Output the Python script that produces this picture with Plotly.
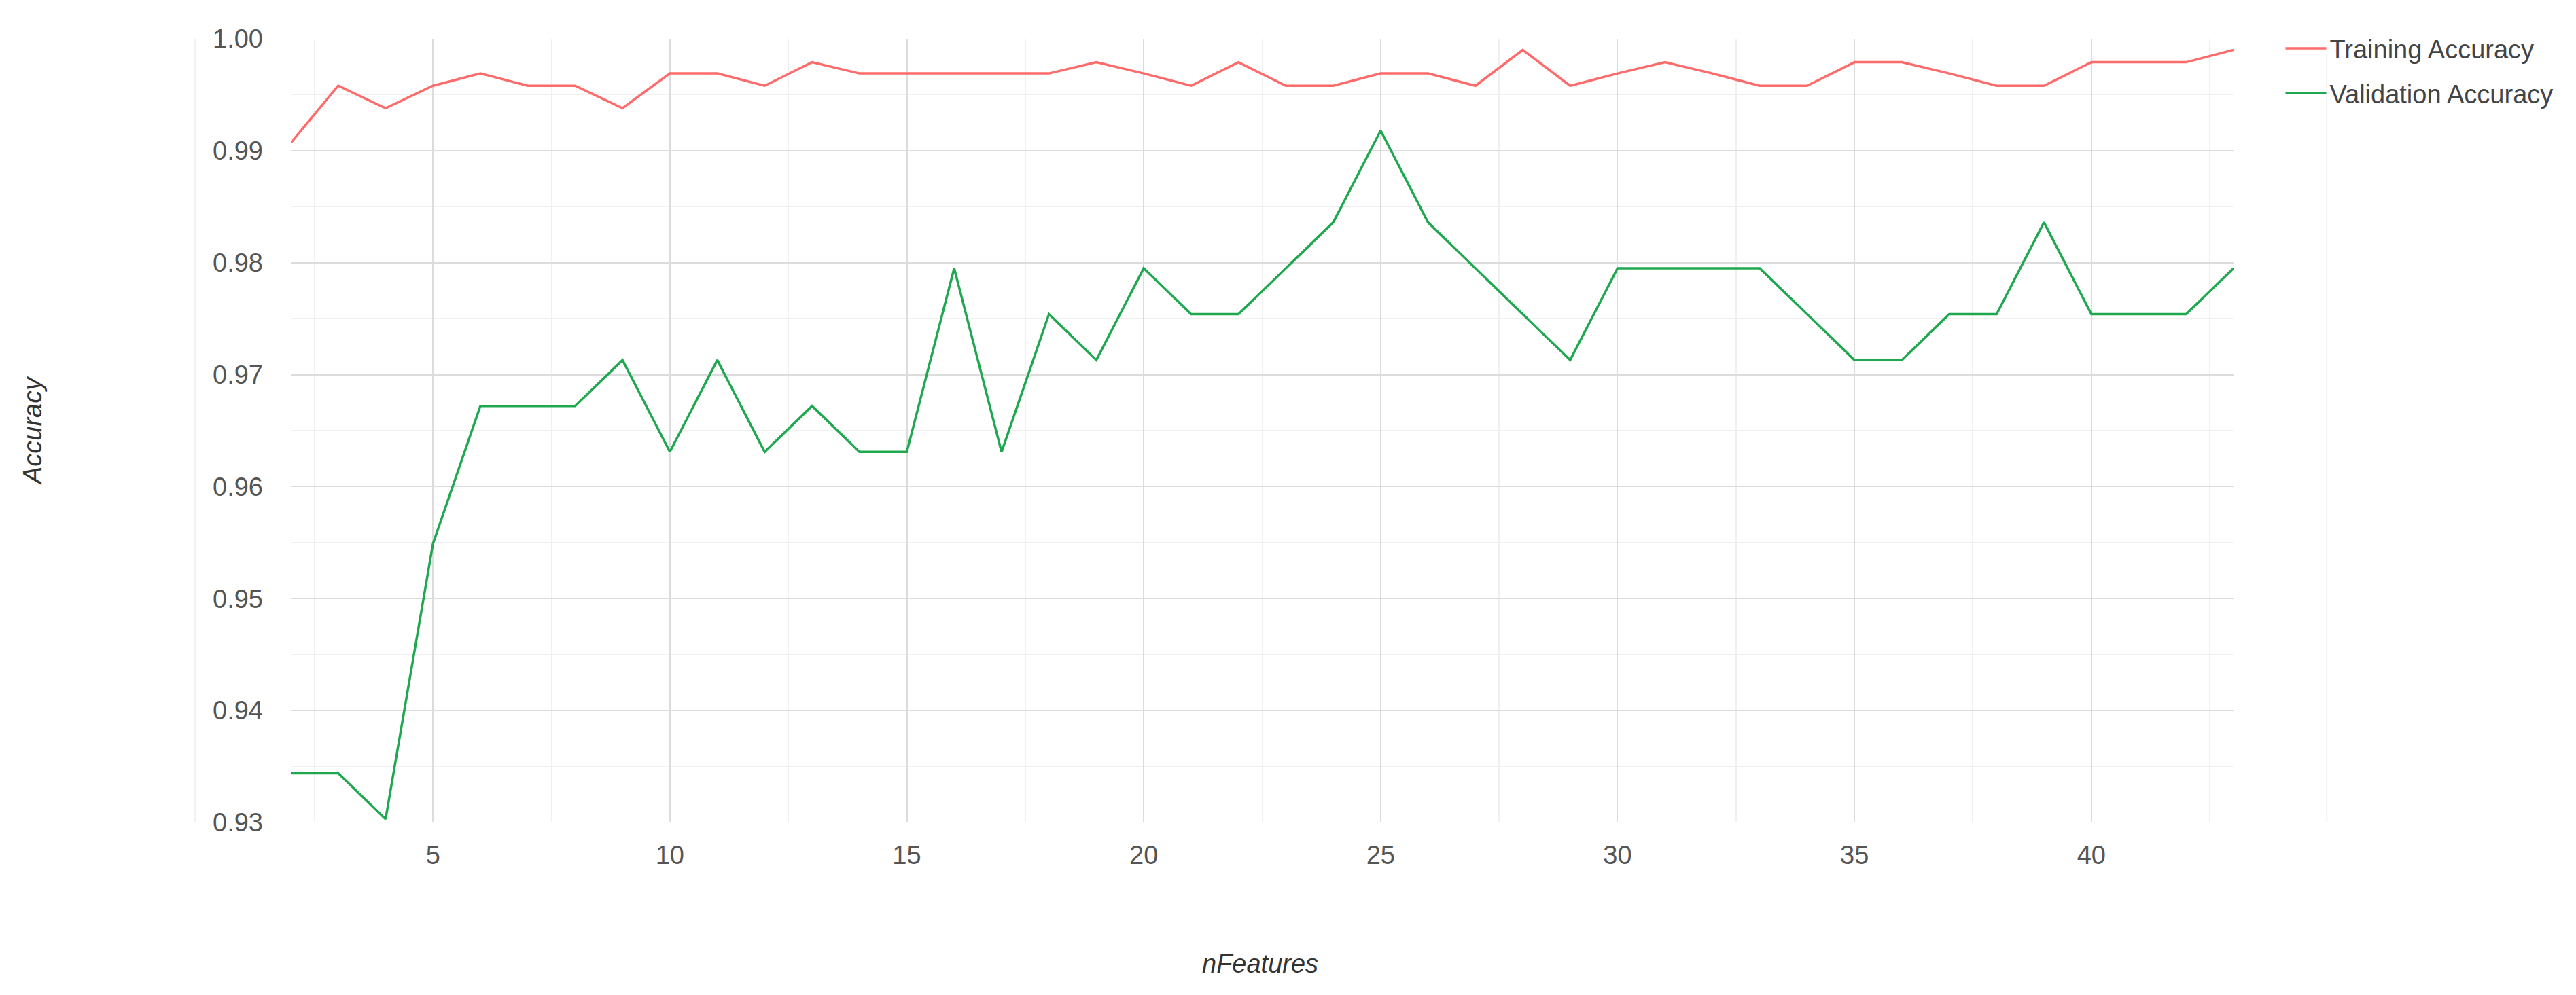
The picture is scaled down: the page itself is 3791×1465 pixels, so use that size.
"""Training vs validation accuracy by number of features."""

import plotly.graph_objects as go

n_features = list(range(2, 44))

training_acc = [
    0.9907, 0.9958, 0.9938, 0.9958, 0.9969, 0.9958, 0.9958, 0.9938, 0.9969, 0.9969,
    0.9958, 0.9979, 0.9969, 0.9969, 0.9969, 0.9969, 0.9969, 0.9979, 0.9969, 0.9958,
    0.9979, 0.9958, 0.9958, 0.9969, 0.9969, 0.9958, 0.9990, 0.9958, 0.9969, 0.9979,
    0.9969, 0.9958, 0.9958, 0.9979, 0.9979, 0.9969, 0.9958, 0.9958, 0.9979, 0.9979,
    0.9979, 0.9990,
]

validation_acc = [
    0.9344, 0.9344, 0.9303, 0.9549, 0.9672, 0.9672, 0.9672, 0.9713, 0.9631, 0.9713,
    0.9631, 0.9672, 0.9631, 0.9631, 0.9795, 0.9631, 0.9754, 0.9713, 0.9795, 0.9754,
    0.9754, 0.9795, 0.9836, 0.9918, 0.9836, 0.9795, 0.9754, 0.9713, 0.9795, 0.9795,
    0.9795, 0.9795, 0.9754, 0.9713, 0.9713, 0.9754, 0.9754, 0.9836, 0.9754, 0.9754,
    0.9754, 0.9795,
]

y_ticks = [0.93, 0.94, 0.95, 0.96, 0.97, 0.98, 0.99, 1.00]
x_ticks = [5, 10, 15, 20, 25, 30, 35, 40]

FONT = "Liberation Sans, Arial, sans-serif"

fig = go.Figure()
fig.add_trace(go.Scatter(x=n_features, y=training_acc, mode="lines",
                         name="Training Accuracy", legendgroup="train",
                         line=dict(color="#ff6b6b", width=3.5)))
fig.add_trace(go.Scatter(x=n_features, y=validation_acc, mode="lines",
                         name="Validation Accuracy", legendgroup="val",
                         line=dict(color="#1fa84f", width=3.5)))

# page body has an 8px margin, so the figure is a little smaller than the window
fig.update_layout(
    width=3775, height=1449,
    paper_bgcolor="white", plot_bgcolor="white",
    font=dict(family=FONT, size=38, color="#555"),
    margin=dict(l=420, r=496, t=49, b=246),
    showlegend=True,
    legend=dict(x=1.025, xanchor="left", y=1.015, yanchor="top",
                xref="paper", yref="paper",
                font=dict(size=38, color="#444"),
                tracegroupgap=14, itemwidth=60,
                bgcolor="rgba(0,0,0,0)"),
    xaxis=dict(range=[2, 43], tickvals=x_ticks, showgrid=True,
               gridcolor="#dcdcdc", gridwidth=2, zeroline=False,
               showline=False, ticks="", ticklabelstandoff=22,
               minor=dict(dtick=2.5, tick0=2.5, showgrid=True,
                          gridcolor="#f0f0f0", gridwidth=2)),
    yaxis=dict(range=[0.93, 1.0], tickvals=y_ticks, tickformat=".2f",
               showgrid=True, gridcolor="#dcdcdc", gridwidth=2,
               zeroline=False, showline=False, ticks="",
               ticklabelstandoff=40,
               minor=dict(dtick=0.005, showgrid=True,
                          gridcolor="#f0f0f0", gridwidth=2)),
    annotations=[
        dict(text="<i>Accuracy</i>", xref="paper", yref="paper",
             x=-0.1329, y=0.5, xanchor="center", yanchor="middle",
             textangle=-90, showarrow=False,
             font=dict(size=38, color="#333")),
        dict(text="<i>nFeatures</i>", xref="paper", yref="paper",
             x=0.499, y=-0.18, xanchor="center", yanchor="middle",
             showarrow=False, font=dict(size=38, color="#333")),
    ],
    shapes=[
        dict(type="line", xref="paper", yref="paper", x0=-0.0493, x1=-0.0493,
             y0=0, y1=1, line=dict(color="#f2f2f2", width=2)),
        dict(type="line", xref="paper", yref="paper", x0=1.048, x1=1.048,
             y0=0, y1=0.98, line=dict(color="#f2f2f2", width=2)),
    ],
)

fig.write_html("out.html")
